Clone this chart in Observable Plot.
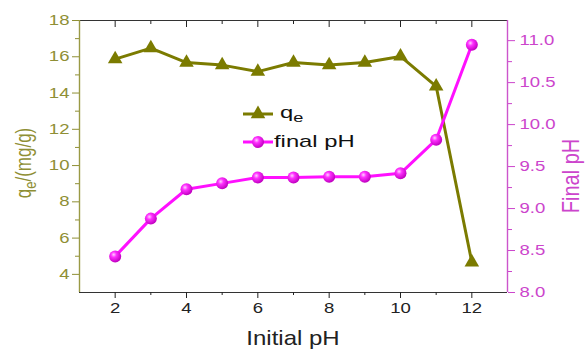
<!DOCTYPE html>
<html><head><meta charset="utf-8">
<script src="https://cdn.jsdelivr.net/npm/d3@7"></script>
<script src="https://cdn.jsdelivr.net/npm/@observablehq/plot@0.6"></script>
<style>
body{margin:0;background:#fff;}
#wrap{position:relative;width:587px;height:349px;font-family:"Liberation Sans",Arial,sans-serif;background:#fff;}
#wrap svg{position:absolute;left:0;top:0;}
</style></head><body><div id="wrap"></div>
<script>
// ---- data ----
const initialPH = [2, 3, 4, 5, 6, 7, 8, 9, 10, 11, 12];
const qe = [15.87, 16.48, 15.68, 15.54, 15.18, 15.68, 15.54, 15.68, 16.02, 14.37, 4.67];
const finalPH = [8.43, 8.88, 9.23, 9.30, 9.37, 9.37, 9.38, 9.38, 9.42, 9.82, 10.95];
const xTicks = [2, 4, 6, 8, 10, 12];
const xMinor = [3, 5, 7, 9, 11];
const qeTicks = [4, 6, 8, 10, 12, 14, 16, 18];
const qeMinor = [5, 7, 9, 11, 13, 15, 17];
const phTicks = [8.0, 8.5, 9.0, 9.5, 10.0, 10.5, 11.0];
const phMinor = [8.25, 8.75, 9.25, 9.75, 10.25, 10.75];
const xDomain = [1, 13];
const qeDomain = [3, 18];
const phDomain = [8, 11.24];

// ---- styles ----
const OLIVE = "#7b7b00", OLIVE_TXT = "#8f8f35", OLIVE_AX = "#9a9a45";
const PINK = "#ff10ff", PINK_TXT = "#cc45cc", PINK_AX = "#cc55cc";
const FONT = "'Liberation Sans', Arial, sans-serif";
const STRETCH = 1.28;
const W = 587, H = 349;
const common = {width: W, height: H, marginLeft: 79, marginRight: 80, marginTop: 20, marginBottom: 57};
const style = {fontFamily: FONT, fontSize: "14.5px", background: "transparent", overflow: "visible"};
const blank = () => "";

const qeData = initialPH.map((x, i) => ({x, y: qe[i]}));
const phData = initialPH.map((x, i) => ({x, y: finalPH[i]}));

const wrap = document.getElementById("wrap");

// overlay svg for defs, axis titles and legend
const ov = d3.create("svg").attr("width", W).attr("height", H);
const defs = ov.append("defs");
const g = defs.append("radialGradient").attr("id", "sph").attr("cx", "38%").attr("cy", "35%").attr("r", "65%");
g.append("stop").attr("offset", "0%").attr("stop-color", "#ffd0ff");
g.append("stop").attr("offset", "35%").attr("stop-color", "#ff30ff");
g.append("stop").attr("offset", "100%").attr("stop-color", "#c000c0");

const p1 = Plot.plot({
  ...common, style,
  x: {domain: xDomain},
  y: {domain: qeDomain},
  marks: [
    Plot.ruleY([qeDomain[0]], {stroke: "#333", strokeWidth: 1.2}),
    Plot.ruleY([qeDomain[1]], {stroke: "#333", strokeWidth: 1.2}),
    Plot.ruleX([xDomain[0]], {stroke: OLIVE_AX, strokeWidth: 1.4}),
    Plot.axisX(xTicks, {anchor: "bottom", tickSize: 6, tickPadding: 4, label: null, color: "#222", fontSize: 14.5}),
    Plot.axisX(xMinor, {anchor: "bottom", tickSize: 3, tickFormat: blank, label: null, color: "#222"}),
    Plot.axisX(xTicks, {anchor: "top", tickSize: 6, dy: 6, tickFormat: blank, label: null, color: "#222"}),
    Plot.axisX(xMinor, {anchor: "top", tickSize: 3, dy: 3, tickFormat: blank, label: null, color: "#222"}),
    Plot.axisY(qeTicks, {anchor: "left", tickSize: 7, tickPadding: 3, label: null, color: OLIVE_TXT, fontSize: 14.5}),
    Plot.axisY(qeMinor, {anchor: "left", tickSize: 4, tickFormat: blank, label: null, color: OLIVE_TXT}),
    Plot.line(qeData, {x: "x", y: "y", stroke: OLIVE, strokeWidth: 3}),
    Plot.dot(qeData, {x: "x", y: "y", symbol: "triangle", r: 5.4, fill: OLIVE, stroke: null})
  ]
});

const p2 = Plot.plot({
  ...common, style,
  x: {domain: xDomain, axis: null},
  y: {domain: phDomain},
  marks: [
    Plot.ruleX([xDomain[1]], {stroke: PINK_AX, strokeWidth: 1.4}),
    Plot.axisY(phTicks, {anchor: "right", tickSize: 7, tickPadding: 5, tickFormat: ".1f", label: null, color: PINK_TXT, fontSize: 14.5}),
    Plot.axisY(phMinor, {anchor: "right", tickSize: 4, tickFormat: blank, label: null, color: PINK_TXT}),
    Plot.line(phData, {x: "x", y: "y", stroke: PINK, strokeWidth: 3}),
    Plot.dot(phData, {x: "x", y: "y", r: 6, fill: "url(#sph)", stroke: null})
  ]
});

// widen tick label glyphs like the reference
for (const p of [p1, p2]) {
  d3.select(p).selectAll("text").each(function() {
    const t = this.getAttribute("transform") || "";
    this.setAttribute("transform", t + ` scale(${STRETCH},1)`);
  });
}

wrap.appendChild(p1);
wrap.appendChild(p2);

// axis titles
const yl = ov.append("text").attr("transform", "translate(31,163) rotate(-90) scale(1,1.25)")
  .attr("text-anchor", "middle").attr("fill", OLIVE_TXT)
  .style("font-family", FONT).style("font-size", "17px");
yl.append("tspan").text("q");
yl.append("tspan").attr("dy", 4).style("font-size", "13px").text("e");
yl.append("tspan").attr("dy", -4).text("/(mg/g)");

ov.append("text").attr("transform", "translate(579,176) rotate(-90) scale(1,1.2)")
  .attr("text-anchor", "middle").attr("fill", PINK_TXT)
  .style("font-family", FONT).style("font-size", "20px")
  .text("Final pH");

ov.append("text").attr("transform", "translate(293,345) scale(1.2,1)").attr("text-anchor", "middle").attr("fill", "#222")
  .style("font-family", FONT).style("font-size", "20px").text("Initial pH");

// legend
const lg = ov.append("g").style("font-family", FONT).style("font-size", "17px");
lg.append("line").attr("x1", 243).attr("x2", 273).attr("y1", 114).attr("y2", 114).attr("stroke", OLIVE).attr("stroke-width", 3);
lg.append("path").attr("transform", "translate(258,114)").attr("d", d3.symbol(d3.symbolTriangle, Math.PI * 5.4 * 5.4)()).attr("fill", OLIVE);
const lt = lg.append("text").attr("transform", "translate(280,118) scale(1.4,1)").attr("fill", "#111");
lt.append("tspan").text("q");
lt.append("tspan").attr("dy", 4).style("font-size", "13px").text("e");
lg.append("line").attr("x1", 243).attr("x2", 273).attr("y1", 142).attr("y2", 142).attr("stroke", PINK).attr("stroke-width", 3);
lg.append("circle").attr("cx", 258).attr("cy", 142).attr("r", 6).attr("fill", "url(#sph)");
lg.append("text").attr("transform", "translate(274,147) scale(1.4,1)").attr("fill", "#111").text("final pH");

wrap.appendChild(ov.node());
</script>
</body></html>
